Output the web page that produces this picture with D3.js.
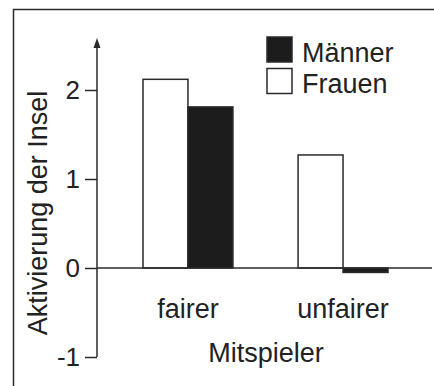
<!DOCTYPE html>
<html>
<head>
<meta charset="utf-8">
<script src="https://cdn.jsdelivr.net/npm/d3@7"></script>
<style>
  body { margin: 0; background: #fff; }
  text { font-family: "Liberation Sans", Arial, sans-serif; fill: #222; }
</style>
</head>
<body>
<div id="chart"></div>
<script>
// data
var categories = ["fairer", "unfairer"];
var groups = ["Frauen", "Männer"];
var frauen = [2.12, 1.27];
var maenner = [1.81, -0.05];
var yTicks = [-1, 0, 1, 2];
var yTickLabels = ["-1", "0", "1", "2"];

var width = 434, height = 386;
var ink = "#2a2a2a";

var svg = d3.select("#chart")
    .append("svg")
    .attr("width", width)
    .attr("height", height);

// frame (only top and left edge are inside the picture)
svg.append("rect")
    .attr("x", 13.5).attr("y", 9.5)
    .attr("width", 440).attr("height", 400)
    .attr("fill", "none")
    .attr("stroke", ink)
    .attr("stroke-width", 1.5);

// scales
var y = d3.scaleLinear().domain([-1, 2]).range([357, 90]);
var x = d3.scaleBand().domain(categories).range([143, 388]).paddingInner(0.42);
var xSub = d3.scaleBand().domain(groups).range([0, x.bandwidth()]);

var rows = categories.map(function(c, i) {
    return {cat: c, values: [{g: "Frauen", v: frauen[i]}, {g: "Männer", v: maenner[i]}]};
});

// bars
var cat = svg.append("g").selectAll("g")
    .data(rows)
    .enter()
    .append("g")
    .attr("transform", function(d) { return "translate(" + x(d.cat) + ",0)"; });

cat.selectAll("rect")
    .data(function(d) { return d.values; })
    .enter()
    .append("rect")
    .attr("x", function(d) { return xSub(d.g); })
    .attr("width", xSub.bandwidth())
    .attr("y", function(d) { return y(Math.max(0, d.v)); })
    .attr("height", function(d) { return Math.abs(y(d.v) - y(0)); })
    .attr("fill", function(d) { return d.g == "Männer" ? "#1c1c1c" : "#fff"; })
    .attr("stroke", ink)
    .attr("stroke-width", 1.5);

// zero line
svg.append("line")
    .attr("x1", 97).attr("x2", 432)
    .attr("y1", y(0)).attr("y2", y(0))
    .attr("stroke", ink)
    .attr("stroke-width", 1.5);

// y axis with arrow
var arrowTop = 38;
svg.append("line")
    .attr("x1", 97).attr("x2", 97)
    .attr("y1", y(-1)).attr("y2", arrowTop + 6)
    .attr("stroke", ink)
    .attr("stroke-width", 1.5);
svg.append("path")
    .attr("d", "M97," + arrowTop + "L93.5," + (arrowTop + 10) + "L100.5," + (arrowTop + 10) + "Z")
    .attr("fill", ink);

var yAxis = svg.append("g")
    .attr("transform", "translate(97,0)")
    .call(d3.axisLeft(y).tickValues(yTicks).tickSize(12).tickPadding(5)
        .tickFormat(function(d, i) { return yTickLabels[i]; }));
yAxis.select(".domain").remove();
yAxis.selectAll("line").attr("stroke", ink).attr("stroke-width", 1.5);
yAxis.selectAll("text")
    .style("font-size", "26px")
    .attr("fill", "#222")
    .attr("font-family", null);

// category labels
svg.append("g").selectAll("text")
    .data(categories)
    .enter()
    .append("text")
    .attr("x", function(d) { return x(d) + x.bandwidth() / 2; })
    .attr("y", 318)
    .attr("text-anchor", "middle")
    .style("font-size", "27px")
    .text(function(d) { return d; });

// axis titles
svg.append("text")
    .attr("x", 266).attr("y", 362)
    .attr("text-anchor", "middle")
    .style("font-size", "27px")
    .text("Mitspieler");

svg.append("text")
    .attr("transform", "translate(47,213) rotate(-90)")
    .attr("text-anchor", "middle")
    .style("font-size", "27px")
    .text("Aktivierung der Insel");

// legend
var legend = svg.append("g").selectAll("g")
    .data(["Männer", "Frauen"])
    .enter()
    .append("g")
    .attr("transform", function(d, i) { return "translate(267," + (37 + i * 31.5) + ")"; });

legend.append("rect")
    .attr("width", 25).attr("height", 25)
    .attr("fill", function(d) { return d == "Männer" ? "#1c1c1c" : "#fff"; })
    .attr("stroke", ink)
    .attr("stroke-width", 1.5);

legend.append("text")
    .attr("x", 35).attr("y", 24.5)
    .style("font-size", "27px")
    .text(function(d) { return d; });
</script>
</body>
</html>
